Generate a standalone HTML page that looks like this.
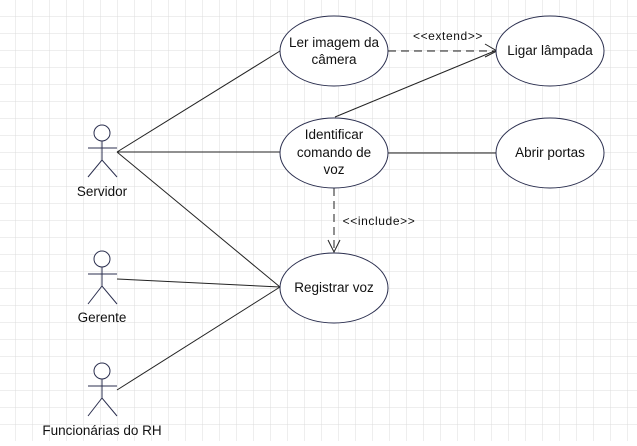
<!DOCTYPE html>
<html><head><style>
body{margin:0;width:637px;height:441px;overflow:hidden;background:#fff;}
text{font-family:"Liberation Sans",sans-serif;fill:#111;}
</style></head><body>
<svg width="637" height="441" xmlns="http://www.w3.org/2000/svg">
<defs>
<pattern id="g" x="15" y="16" width="17" height="17" patternUnits="userSpaceOnUse">
<path d="M0 0H17M0 0V17" stroke="#dcdcdc" stroke-width="1" fill="none"/>
</pattern>
</defs>
<rect width="637" height="441" fill="url(#g)"/>
<g stroke="#222" stroke-width="1" fill="none">
<line x1="117" y1="152" x2="280" y2="51"/>
<line x1="117" y1="152" x2="280" y2="152"/>
<line x1="117" y1="152" x2="280" y2="287"/>
<line x1="117" y1="279" x2="280" y2="287"/>
<line x1="117" y1="390" x2="280" y2="287"/>
<line x1="335" y1="117" x2="497" y2="50"/>
<line x1="388" y1="153" x2="497" y2="153"/>
<line x1="388" y1="51" x2="496" y2="51" stroke-dasharray="8,5"/>
<polyline points="485,44 497,51 485,57"/>
<line x1="334" y1="188" x2="334" y2="251" stroke-dasharray="8,5"/>
<polyline points="328,240 334,252 340,240"/>
</g>
<g stroke="#2b2f4f" stroke-width="1" fill="#fff">
<ellipse cx="334" cy="51" rx="54" ry="35"/>
<ellipse cx="550" cy="51" rx="54" ry="35"/>
<ellipse cx="334" cy="153" rx="54" ry="35"/>
<ellipse cx="550" cy="153" rx="54" ry="35"/>
<ellipse cx="334" cy="288" rx="54" ry="35"/>
</g>
<g stroke="#2b2f4f" stroke-width="1" fill="#fff">
<circle cx="102" cy="133" r="8"/>
<path d="M102 141V160M88 148H117M88 177L102 160L117 177" fill="none"/>
<circle cx="102" cy="259" r="8"/>
<path d="M102 267V286M88 274H117M88 304L102 286L117 304" fill="none"/>
<circle cx="102" cy="371" r="8"/>
<path d="M102 379V398M88 386H117M88 416L102 398L117 416" fill="none"/>
</g>
<g font-size="13.5" text-anchor="middle">
<text x="334" y="47">Ler imagem da</text>
<text x="334" y="64">câmera</text>
<text x="550" y="55">Ligar lâmpada</text>
<text x="334" y="139">Identificar</text>
<text x="334" y="157">comando de</text>
<text x="334" y="174">voz</text>
<text x="550" y="157">Abrir portas</text>
<text x="334" y="292">Registrar voz</text>
<text x="102" y="196">Servidor</text>
<text x="102" y="322">Gerente</text>
<text x="102" y="435">Funcionárias do RH</text>
</g>
<g font-size="12" letter-spacing="0.6" text-anchor="middle">
<text x="448" y="40">&lt;&lt;extend&gt;&gt;</text>
<text x="379" y="225">&lt;&lt;include&gt;&gt;</text>
</g>
</svg>
</body></html>
